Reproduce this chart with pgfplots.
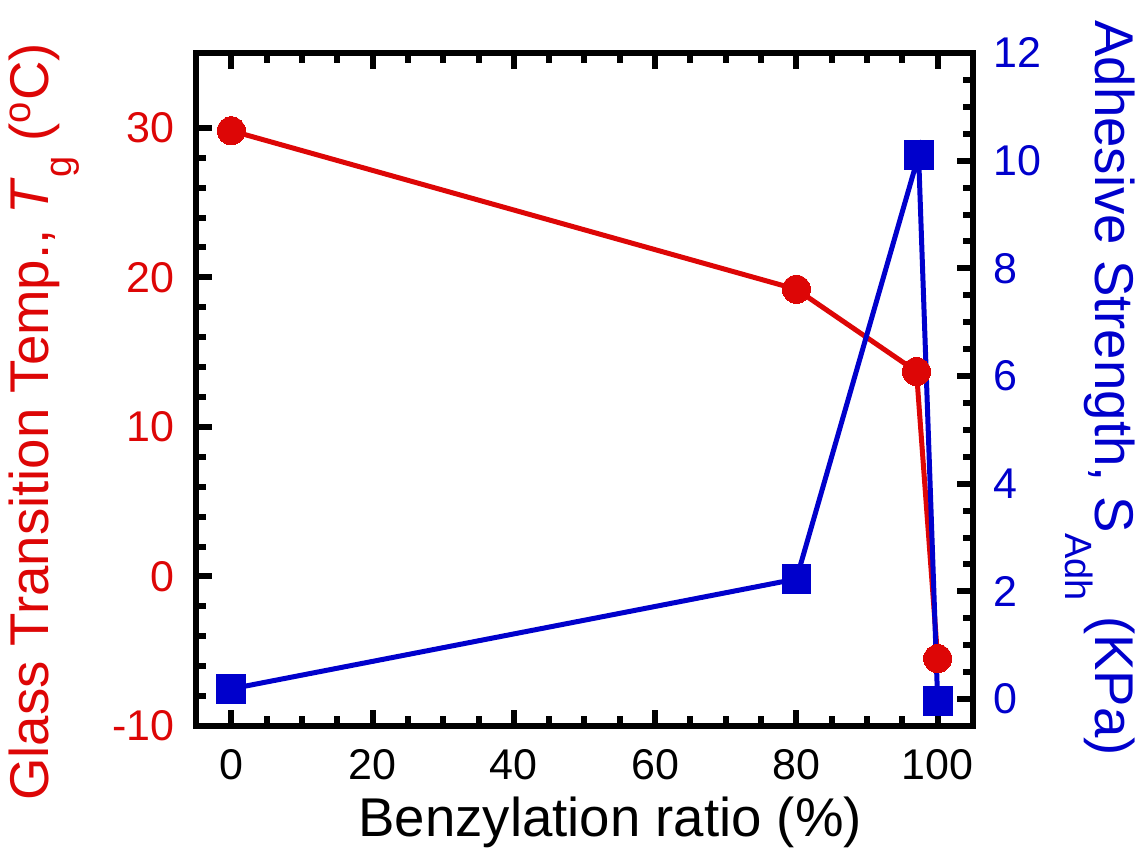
\documentclass[border=0pt]{standalone}
\usepackage{fontspec}
\setmainfont{Liberation Sans}
\usepackage{pgfplots}
\pgfplotsset{compat=1.18}

\definecolor{tgred}{RGB}{221,6,6}
\definecolor{adhblue}{RGB}{0,0,204}

\newcommand{\ticksize}{\fontsize{21.5pt}{25pt}\selectfont}
\newcommand{\labelsize}{\fontsize{27.3pt}{32pt}\selectfont}

% Glass transition temperature (deg C) vs. benzylation ratio (%)
\pgfplotstableread{
x     tg
0     29.8
80    19.2
97    13.7
100   -5.5
}\tgdata

% Adhesive strength (KPa) vs. benzylation ratio (%)
\pgfplotstableread{
x     sadh
0     0.19
80    2.23
97.3  10.1
100   -0.03
}\adhdata

\pgfplotsset{
  frame/.style={
    scale only axis,
    width=388.5pt, height=336.5pt,
    at={(0,0)}, anchor=south west,
    xmin=-5, xmax=105,
    tick align=inside,
    axis line style={line width=3.4pt},
    every tick/.style={line width=3pt, black},
    major tick length=8pt,
    minor tick length=4.8pt,
    /pgf/number format/assume math mode=true,
    clip=false,
  },
}

\begin{document}
\begin{tikzpicture}
\path[use as bounding box] (-98pt,-64.5pt) rectangle (470.5pt,363pt);

% left axis: glass transition temperature
\begin{axis}[
  frame,
  ymin=-10, ymax=35,
  xtick={0,20,...,100},
  minor x tick num=3,
  ytick={-10,0,10,20,30},
  minor y tick num=4,
  xtick pos=both,
  xticklabel pos=lower,
  ytick pos=left,
  xticklabel style={font=\ticksize, text=black, inner sep=0pt, anchor=north, yshift=-11.5pt},
  yticklabel style={font=\ticksize, text=tgred, inner sep=0pt, anchor=east, xshift=-10.5pt},
  xlabel={Benzylation ratio (\%)},
  xlabel style={font=\labelsize, at={(axis description cs:0.533,-0.1427)}, anchor=center},
  ylabel={Glass Transition Temp., \textit{T}\raisebox{-0.42em}{\fontsize{19pt}{22pt}\selectfont g} (\textsuperscript{o}C)},
  ylabel style={font=\labelsize, text=tgred, at={(axis description cs:-0.1956,0.4517)}, anchor=center, rotate=0},
]
\addplot[color=tgred, line width=2.5pt, mark=*, mark size=7pt,
  mark options={solid, fill=tgred, draw=tgred, line width=0pt}]
  table[x=x, y=tg] {\tgdata};
\end{axis}

% right axis: adhesive strength
\begin{axis}[
  frame,
  ymin=-0.5, ymax=12,
  hide x axis,
  axis y line*=right,
  ytick={0,2,...,12},
  minor y tick num=3,
  ytick pos=right,
  yticklabel pos=right,
  yticklabel style={font=\ticksize, text=adhblue, inner sep=0pt, anchor=west, xshift=10pt},
  ylabel={Adhesive Strength, S\raisebox{-0.55em}{\fontsize{19pt}{22pt}\selectfont Adh} (KPa)},
  ylabel style={font=\labelsize, text=adhblue, at={(axis description cs:1.1634,0.502)}, anchor=center, rotate=-180},
]
\addplot[color=adhblue, line width=2.5pt, mark=square*, mark size=7.2pt,
  mark options={solid, fill=adhblue, draw=adhblue, line width=0pt}]
  table[x=x, y=sadh] {\adhdata};
\end{axis}

% temperature markers drawn again above the strength curve
\begin{axis}[
  frame,
  ymin=-10, ymax=35,
  hide axis,
]
\addplot[only marks, mark=*, mark size=7pt,
  mark options={solid, fill=tgred, draw=tgred, line width=0pt}]
  table[x=x, y=tg] {\tgdata};
\end{axis}
\end{tikzpicture}
\end{document}
